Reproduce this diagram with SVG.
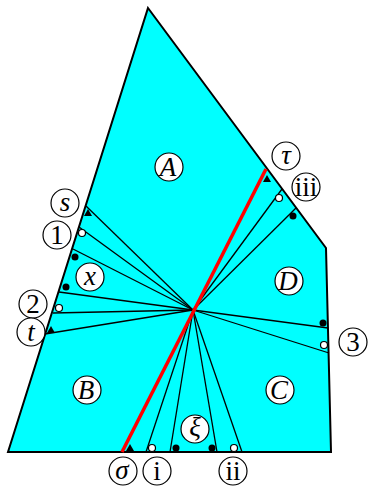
<svg xmlns="http://www.w3.org/2000/svg" width="368" height="488" viewBox="0 0 368 488">
<style>
.reg{fill:#00ffff;stroke:#000;stroke-width:2;stroke-linejoin:miter}
.ln{stroke:#000;stroke-width:1.3;fill:none}
.red{stroke:#ff0000;stroke-width:3.5;fill:none}
.lab circle{fill:#fff;stroke:#000;stroke-width:1.2}
.lab text{font-family:"Liberation Serif",serif;font-size:27px;text-anchor:middle;fill:#000}
.it{font-style:italic}
.lc{font-size:30px}
.dot{fill:#000}
.oc{fill:#fff;stroke:#000;stroke-width:1.2}
</style>
<g id="region">
<polygon class="reg" points="148,8 326,248 331,452 8,452"/>
</g>
<g id="connectors">
<line class="ln" x1="193" y1="310" x2="86" y2="206"/>
<line class="ln" x1="193" y1="310" x2="79" y2="227"/>
<line class="ln" x1="193" y1="310" x2="73" y2="249"/>
<line class="ln" x1="193" y1="310" x2="59" y2="292"/>
<line class="ln" x1="193" y1="310" x2="53" y2="313"/>
<line class="ln" x1="193" y1="310" x2="45" y2="334"/>
<line class="ln" x1="193" y1="310" x2="282" y2="189"/>
<line class="ln" x1="193" y1="310" x2="296" y2="208"/>
<line class="ln" x1="193" y1="310" x2="328" y2="328"/>
<line class="ln" x1="193" y1="310" x2="329" y2="353"/>
<line class="ln" x1="193" y1="310" x2="146" y2="452"/>
<line class="ln" x1="193" y1="310" x2="170" y2="452"/>
<line class="ln" x1="193" y1="310" x2="217" y2="452"/>
<line class="ln" x1="193" y1="310" x2="242" y2="452"/>
<line class="red" x1="122" y1="452" x2="266" y2="169"/>
</g>
<g id="markers">
<polygon class="dot" points="88,209 92,216 84,216"/>
<circle class="oc" cx="82" cy="233" r="3.5"/>
<circle class="dot" cx="75" cy="257" r="3.5"/>
<circle class="dot" cx="66" cy="287" r="3.5"/>
<circle class="oc" cx="59" cy="308" r="3.5"/>
<polygon class="dot" points="51,326 55,333 47,333"/>
<polygon class="dot" points="267,175 271,182 263,182"/>
<circle class="oc" cx="279" cy="198" r="3.5"/>
<circle class="dot" cx="293" cy="216" r="3.5"/>
<circle class="dot" cx="323" cy="323" r="3.5"/>
<circle class="oc" cx="324" cy="345" r="3.5"/>
<polygon class="dot" points="130,444 134,451 126,451"/>
<circle class="oc" cx="152" cy="448" r="3.5"/>
<circle class="dot" cx="176" cy="448" r="3.5"/>
<circle class="dot" cx="212" cy="448" r="3.5"/>
<circle class="oc" cx="234" cy="448" r="3.5"/>
</g>
<g id="A" class="lab"><circle cx="169" cy="167" r="14"/><text class="it" x="168" y="176">A</text></g>
<g id="s" class="lab"><circle cx="65" cy="203" r="14"/><text class="it lc" x="65" y="211">s</text></g>
<g id="n1" class="lab"><circle cx="57" cy="235" r="14"/><text x="57" y="244">1</text></g>
<g id="x" class="lab"><circle cx="90" cy="277" r="14"/><text class="it lc" x="90" y="285">x</text></g>
<g id="n2" class="lab"><circle cx="33" cy="304" r="14"/><text x="33" y="313">2</text></g>
<g id="t" class="lab"><circle cx="31" cy="332" r="14"/><text class="it lc" x="31" y="341">t</text></g>
<g id="tau" class="lab"><circle cx="286" cy="156" r="14"/><text class="it lc" x="286" y="164">τ</text></g>
<g id="iii" class="lab"><circle cx="306" cy="187" r="14"/><text x="306" y="196">iii</text></g>
<g id="D" class="lab"><circle cx="289" cy="281" r="14"/><text class="it" x="288" y="290">D</text></g>
<g id="n3" class="lab"><circle cx="353" cy="342" r="14"/><text x="353" y="351">3</text></g>
<g id="B" class="lab"><circle cx="87" cy="390" r="14"/><text class="it" x="86" y="399">B</text></g>
<g id="C" class="lab"><circle cx="280" cy="390" r="14"/><text class="it" x="279" y="399">C</text></g>
<g id="xi" class="lab"><circle cx="195" cy="429" r="14"/><text class="it lc" x="195" y="436">ξ</text></g>
<g id="sigma" class="lab"><circle cx="123" cy="471" r="14"/><text class="it lc" x="122" y="479">σ</text></g>
<g id="i" class="lab"><circle cx="157" cy="471" r="14"/><text x="157" y="480">i</text></g>
<g id="ii" class="lab"><circle cx="233" cy="471" r="14"/><text x="233" y="480">ii</text></g>
</svg>
